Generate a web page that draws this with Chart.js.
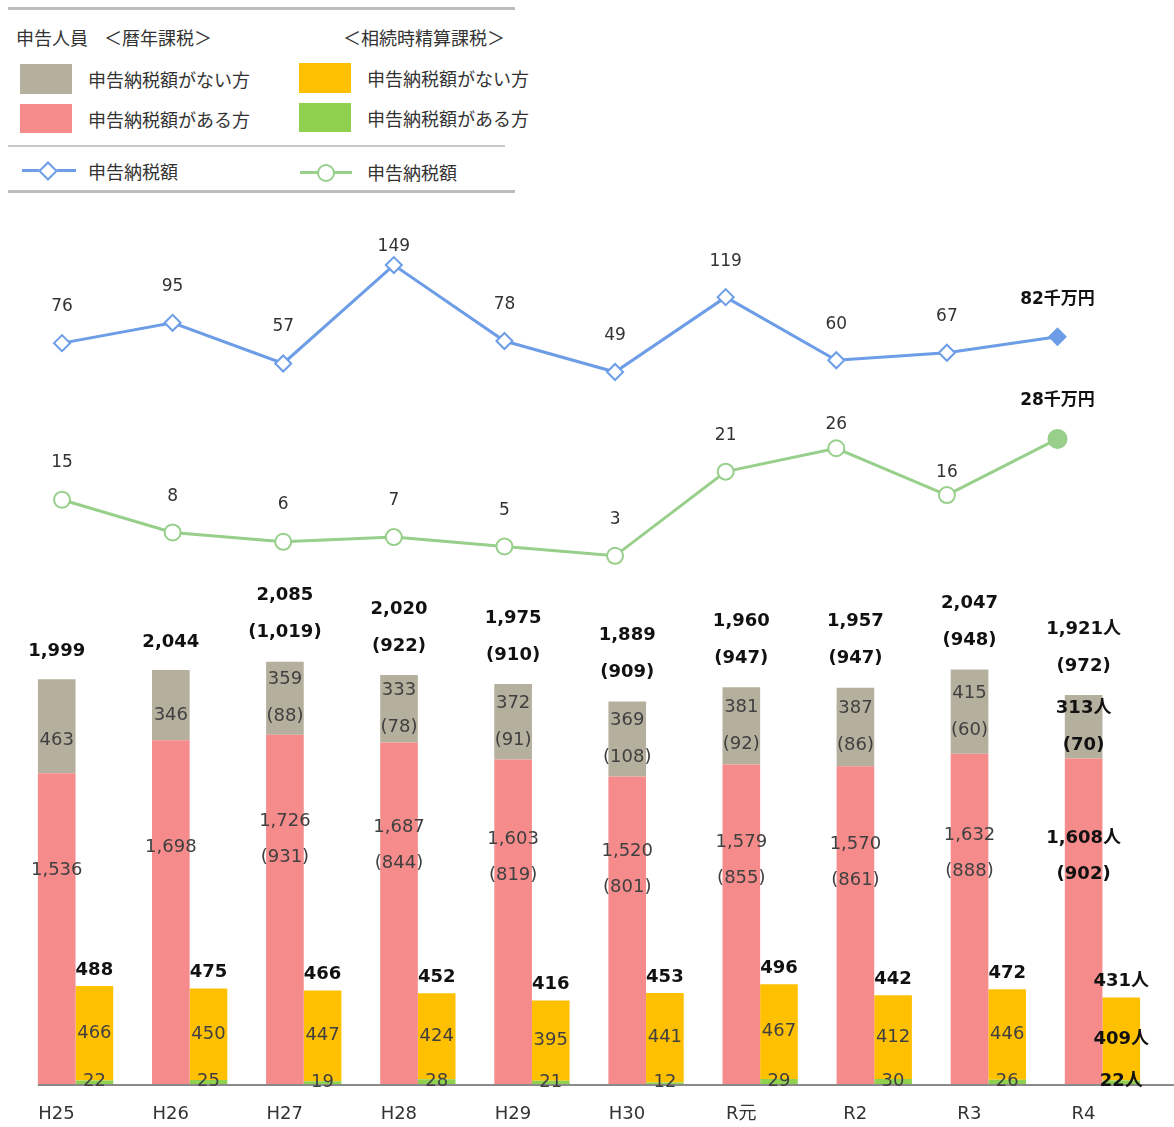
<!DOCTYPE html>
<html lang="ja">
<head>
<meta charset="utf-8">
<title>申告人員・申告納税額の推移</title>
<script src="https://cdn.jsdelivr.net/npm/chart.js@4.4.0/dist/chart.umd.min.js"></script>
<style>
  html, body { margin: 0; padding: 0; background: #fff; }
  body { width: 1174px; height: 1127px; position: relative; overflow: hidden;
         font-family: "Noto Sans CJK JP", sans-serif; color: #333; }
  .lg { position: absolute; font-size: 18px; line-height: 18px; white-space: nowrap; }
  .rule { position: absolute; left: 8px; }
  .box { position: absolute; width: 52px; }
  .mline { position: absolute; height: 3px; }
  #lineWrap { position: absolute; left: 0; top: 220px; }
  #barWrap { position: absolute; left: 0; top: 570px; }
</style>
</head>
<body>

<!-- legend -->
<div class="rule" style="top:7px;width:507px;height:3px;background:#bdbdbd"></div>
<div class="lg" style="left:16px;top:28px">申告人員</div>
<div class="lg" style="left:104px;top:28px">＜暦年課税＞</div>
<div class="lg" style="left:343px;top:28px">＜相続時精算課税＞</div>

<div class="box" style="left:20px;top:64px;height:30px;background:#b5b09e"></div>
<div class="lg" style="left:88px;top:70px">申告納税額がない方</div>
<div class="box" style="left:20px;top:104px;height:29px;background:#f58b8b"></div>
<div class="lg" style="left:88px;top:110px">申告納税額がある方</div>

<div class="box" style="left:299px;top:63px;height:30px;background:#ffc000"></div>
<div class="lg" style="left:367px;top:69px">申告納税額がない方</div>
<div class="box" style="left:299px;top:103px;height:29px;background:#8fd14f"></div>
<div class="lg" style="left:367px;top:109px">申告納税額がある方</div>

<div class="rule" style="top:145px;width:497px;height:2px;background:#c8c8c8"></div>

<div class="mline" style="left:22px;top:169px;width:54px;background:#6c9de6"></div>
<div style="position:absolute;left:41px;top:164px;width:10px;height:10px;background:#fff;border:2px solid #6c9de6;transform:rotate(45deg)"></div>
<div class="lg" style="left:88px;top:162px">申告納税額</div>

<div class="mline" style="left:300px;top:171px;width:52px;background:#97cf8b"></div>
<div style="position:absolute;left:317px;top:164px;width:14px;height:14px;background:#fff;border:2px solid #97cf8b;border-radius:50%"></div>
<div class="lg" style="left:367px;top:163px">申告納税額</div>

<div class="rule" style="top:190px;width:507px;height:3px;background:#bdbdbd"></div>

<div id="lineWrap"><canvas id="amountChart" width="1174" height="360"></canvas></div>
<div id="barWrap"><canvas id="peopleChart" width="1174" height="557"></canvas></div>

<script>
// categories
const years = ['H25', 'H26', 'H27', 'H28', 'H29', 'H30', 'R元', 'R2', 'R3', 'R4'];

// 暦年課税 (people)
const calNoTax = [463, 346, 359, 333, 372, 369, 381, 387, 415, 313];
const calNoTaxSub = [null, null, 88, 78, 91, 108, 92, 86, 60, 70];
const calTax = [1536, 1698, 1726, 1687, 1603, 1520, 1579, 1570, 1632, 1608];
const calTaxSub = [null, null, 931, 844, 819, 801, 855, 861, 888, 902];
const calTotal = [1999, 2044, 2085, 2020, 1975, 1889, 1960, 1957, 2047, 1921];
const calTotalSub = [null, null, 1019, 922, 910, 909, 947, 947, 948, 972];

// 相続時精算課税 (people)
const setNoTax = [466, 450, 447, 424, 395, 441, 467, 412, 446, 409];
const setTax = [22, 25, 19, 28, 21, 12, 29, 30, 26, 22];
const setTotal = [488, 475, 466, 452, 416, 453, 496, 442, 472, 431];

// 申告納税額 (千万円)
const calAmount = [76, 95, 57, 149, 78, 49, 119, 60, 67, 82];
const setAmount = [15, 8, 6, 7, 5, 3, 21, 26, 16, 28];

const LAST = years.length - 1;
const FONT = '"DejaVu Sans", "Noto Sans CJK JP", sans-serif';
const BLUE = '#6c9de6';
const GREEN_LINE = '#97cf8b';

function fmt(v) {
    return v.toLocaleString('en-US');
}

// value labels above line points
const lineLabels = {
    id: 'lineLabels',
    afterDatasetsDraw(chart, args, opts) {
        const ctx = chart.ctx;
        ctx.save();
        ctx.textAlign = 'center';
        ctx.textBaseline = 'middle';
        chart.data.datasets.forEach((ds, di) => {
            const meta = chart.getDatasetMeta(di);
            const lift = opts.lift[di];
            meta.data.forEach((pt, i) => {
                const last = i === LAST;
                ctx.font = (last ? 'bold ' : '') + '17px ' + FONT;
                ctx.fillStyle = last ? '#111' : '#333';
                ctx.fillText(fmt(ds.data[i]) + (last ? '千万円' : ''), pt.x, pt.y - lift[i]);
            });
        });
        ctx.restore();
    }
};

// labels on and above the bars + base line
const barLabels = {
    id: 'barLabels',
    afterDatasetsDraw(chart) {
        const ctx = chart.ctx;
        const pink = chart.getDatasetMeta(0).data;
        const gray = chart.getDatasetMeta(1).data;
        const green = chart.getDatasetMeta(2).data;
        const yellow = chart.getDatasetMeta(3).data;
        const y0 = chart.scales.y.getPixelForValue(0);

        ctx.save();
        // base line
        ctx.strokeStyle = '#8a8a8a';
        ctx.lineWidth = 2;
        ctx.beginPath();
        ctx.moveTo(pink[0].x - pink[0].width / 2, y0);
        ctx.lineTo(chart.width, y0);
        ctx.stroke();

        ctx.textAlign = 'center';
        ctx.textBaseline = 'middle';
        const bold = 'bold 18px ' + FONT;
        const reg = '18px ' + FONT;

        years.forEach((yr, i) => {
            const last = i === LAST;
            const unit = last ? '人' : '';
            const segFont = last ? bold : reg;
            const segColor = last ? '#111' : '#404040';

            // 暦年課税 total
            const g = gray[i], p = pink[i];
            ctx.font = bold;
            ctx.fillStyle = '#111';
            if (calTotalSub[i] !== null) {
                ctx.fillText(fmt(calTotal[i]) + unit, g.x, g.y - 66);
                ctx.fillText('(' + fmt(calTotalSub[i]) + ')', g.x, g.y - 29);
            } else {
                ctx.fillText(fmt(calTotal[i]) + unit, g.x, g.y - 28);
            }

            ctx.font = segFont;
            ctx.fillStyle = segColor;
            // gray segment
            const gh = g.base - g.y;
            if (calNoTaxSub[i] !== null) {
                const gc = g.y + gh / 2;
                ctx.fillText(fmt(calNoTax[i]) + unit, g.x, gc - 18.5);
                ctx.fillText('(' + fmt(calNoTaxSub[i]) + ')', g.x, gc + 18.5);
            } else {
                ctx.fillText(fmt(calNoTax[i]) + unit, g.x, g.y + gh * 0.65);
            }
            // pink segment
            const pc = p.y + (p.base - p.y) * 0.3;
            if (calTaxSub[i] !== null) {
                ctx.fillText(fmt(calTax[i]) + unit, p.x, pc - 18);
                ctx.fillText('(' + fmt(calTaxSub[i]) + ')', p.x, pc + 18);
            } else {
                ctx.fillText(fmt(calTax[i]) + unit, p.x, pc + 4);
            }

            // 相続時精算課税
            const yl = yellow[i], gr = green[i];
            ctx.fillText(fmt(setNoTax[i]) + unit, yl.x, (yl.y + yl.base) / 2);
            ctx.fillText(fmt(setTax[i]) + unit, gr.x, (gr.y + gr.base) / 2 - 1);
            ctx.font = bold;
            ctx.fillStyle = '#111';
            ctx.fillText(fmt(setTotal[i]) + unit, yl.x, yl.y - 16);
        });
        ctx.restore();
    }
};

// 申告納税額 line chart
new Chart(document.getElementById('amountChart'), {
    type: 'line',
    data: {
        labels: years,
        datasets: [{
            label: '申告納税額（暦年課税）',
            data: calAmount,
            yAxisID: 'yCal',
            borderColor: BLUE,
            borderWidth: 3,
            pointStyle: 'rectRot',
            pointRadius: 8,
            pointBorderWidth: 2,
            pointBorderColor: BLUE,
            pointBackgroundColor: calAmount.map((v, i) => i === LAST ? BLUE : '#fff')
        }, {
            label: '申告納税額（相続時精算課税）',
            data: setAmount,
            yAxisID: 'ySet',
            borderColor: GREEN_LINE,
            borderWidth: 3,
            pointStyle: 'circle',
            pointRadius: setAmount.map((v, i) => i === LAST ? 9 : 8),
            pointBorderWidth: 2,
            pointBorderColor: GREEN_LINE,
            pointBackgroundColor: setAmount.map((v, i) => i === LAST ? GREEN_LINE : '#fff')
        }]
    },
    options: {
        responsive: false,
        animation: false,
        layout: { autoPadding: false, padding: { left: 62, right: 116.5, top: 0, bottom: 0 } },
        scales: {
            x: { display: false, offset: false },
            yCal: { display: false, min: -145.4, max: 191.1 },
            ySet: { display: false, min: -2.17, max: 74.8 }
        },
        plugins: {
            legend: { display: false },
            tooltip: { enabled: false },
            lineLabels: {
                lift: [
                    [37, 36, 37, 18, 36, 36, 36, 36, 36, 37],
                    [37, 36, 37, 37, 36, 36, 36, 24, 22, 38]
                ]
            }
        }
    },
    plugins: [lineLabels]
});

// 申告人員 stacked bars
new Chart(document.getElementById('peopleChart'), {
    type: 'bar',
    data: {
        labels: years,
        datasets: [
            { label: '暦年課税 申告納税額がある方', data: calTax, stack: 'cal', backgroundColor: '#f58b8b' },
            { label: '暦年課税 申告納税額がない方', data: calNoTax, stack: 'cal', backgroundColor: '#b5b09e' },
            { label: '相続時精算課税 申告納税額がある方', data: setTax, stack: 'set', backgroundColor: '#8fd14f' },
            { label: '相続時精算課税 申告納税額がない方', data: setNoTax, stack: 'set', backgroundColor: '#ffc000' }
        ]
    },
    options: {
        responsive: false,
        animation: false,
        categoryPercentage: 0.66,
        barPercentage: 1,
        layout: { autoPadding: false, padding: { left: 18.5, right: 14.5, top: 0, bottom: 0 } },
        scales: {
            x: {
                stacked: true,
                offset: true,
                grid: { display: false, drawTicks: false },
                border: { display: false },
                ticks: {
                    color: '#333',
                    font: { family: FONT, size: 18 },
                    padding: 19,
                    labelOffset: -19,
                    maxRotation: 0
                },
                afterFit: (scale) => { scale.height = 42; }
            },
            y: { stacked: true, display: false, min: 0, max: 2537 }
        },
        plugins: {
            legend: { display: false },
            tooltip: { enabled: false }
        }
    },
    plugins: [barLabels]
});
</script>
</body>
</html>
